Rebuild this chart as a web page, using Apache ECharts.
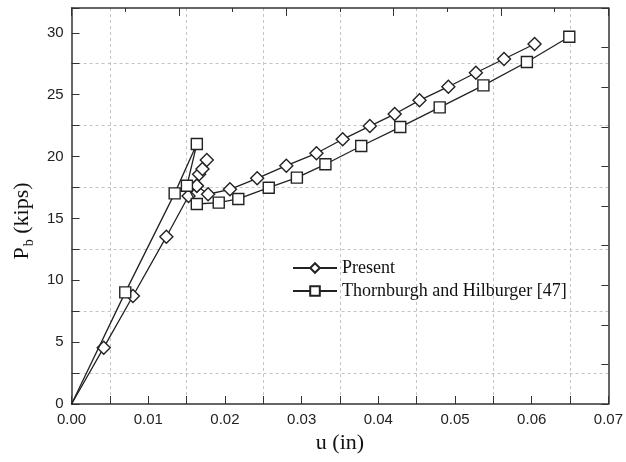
<!DOCTYPE html>
<html>
<head>
<meta charset="utf-8">
<script src="https://cdn.jsdelivr.net/npm/echarts@6/dist/echarts.min.js"></script>
<style>
    html, body { margin: 0; padding: 0; background: #fff; }
    #chart { width: 626px; height: 462px; }
</style>
</head>
<body>
<div id="chart"></div>
<script>
// Present (diamonds): u in inches, P_b in kips; the spike is retraced back to 17.64
const presentU = [0, 0.00419, 0.0080, 0.01236, 0.01525, 0.01633, 0.01663, 0.01707, 0.01763, 0.01633, 0.0178,
    0.02065, 0.0242, 0.0280, 0.03193, 0.03535, 0.03889, 0.04213, 0.04537, 0.04913, 0.05272, 0.05639, 0.06037];
const presentP = [0, 4.55, 8.73, 13.52, 16.81, 17.64, 18.56, 18.99, 19.72, 17.64, 16.95,
    17.35, 18.24, 19.26, 20.26, 21.39, 22.46, 23.43, 24.54, 25.64, 26.77, 27.88, 29.09];

// Thornburgh and Hilburger [47] (squares)
const refU = [0, 0.0070, 0.01344, 0.01633, 0.01504, 0.01633, 0.01919, 0.02174, 0.02571, 0.02938,
    0.0331, 0.03777, 0.04286, 0.048, 0.0537, 0.05937, 0.0649];
const refP = [0, 9.02, 17.02, 21.01, 17.64, 16.16, 16.27, 16.57, 17.48, 18.29,
    19.37, 20.85, 22.38, 23.97, 25.75, 27.64, 29.68];

const seriesNames = ['Present', 'Thornburgh and Hilburger [47]'];

const INK = '#222';
const GRID_LINE = { color: '#c4c4c4', type: [3, 3], width: 1 };
const FRAME = { show: true, onZero: false, lineStyle: { color: '#333', width: 1.5 } };

const toPoints = (xs, ys) => xs.map((x, i) => (i === 0 ? { value: [x, ys[i]], symbol: 'none' } : [x, ys[i]]));

const chart = echarts.init(document.getElementById('chart'));

chart.setOption({
    backgroundColor: '#fff',
    animation: false,
    grid: { left: 70, right: 17, top: 8, bottom: 58 },
    legend: {
        data: seriesNames,
        orient: 'vertical',
        left: 287,
        top: 254,
        itemWidth: 44,
        itemHeight: 12,
        itemGap: 5,
        textStyle: { fontFamily: 'Liberation Serif', fontSize: 18, color: '#111' },
    },
    xAxis: [
        {
            type: 'value',
            min: 0,
            max: 0.07,
            interval: 0.01,
            name: 'u (in)',
            nameLocation: 'middle',
            nameGap: 26,
            nameTextStyle: { fontFamily: 'Liberation Serif', fontSize: 22, color: '#111' },
            axisLine: FRAME,
            axisTick: { inside: true, length: 8, lineStyle: { color: '#333' } },
            minorTick: { show: true, splitNumber: 2, length: 8, lineStyle: { color: '#333' } },
            splitLine: { show: false },
            minorSplitLine: { show: true, lineStyle: GRID_LINE },
            axisLabel: {
                margin: 8,
                fontFamily: 'Liberation Sans',
                fontSize: 15,
                color: INK,
                formatter: (v) => v.toFixed(2),
            },
        },
        {
            type: 'value',
            position: 'top',
            min: 0,
            max: 0.07,
            interval: 0.014,
            axisLine: FRAME,
            axisTick: { inside: true, length: 8, lineStyle: { color: '#333' } },
            minorTick: { show: true, splitNumber: 2, length: 4, lineStyle: { color: '#333' } },
            splitLine: { show: false },
            axisLabel: { show: false },
        },
    ],
    yAxis: [
        {
            type: 'value',
            min: 0,
            max: 32,
            interval: 5,
            name: '{p|P}{s|b}{p| (kips)}',
            nameLocation: 'middle',
            nameGap: 30,
            nameTextStyle: {
                padding: [0, 30, 0, 0],
                rich: {
                    p: { fontFamily: 'Liberation Serif', fontSize: 22, lineHeight: 22, color: '#111' },
                    s: { fontFamily: 'Liberation Serif', fontSize: 14, lineHeight: 14, padding: [14, 0, 0, 1], color: '#111' },
                },
            },
            axisLine: FRAME,
            axisTick: { inside: true, length: 8, lineStyle: { color: '#333' } },
            minorTick: { show: true, splitNumber: 2, length: 8, lineStyle: { color: '#333' } },
            splitLine: { show: false },
            minorSplitLine: { show: true, lineStyle: GRID_LINE },
            axisLabel: {
                margin: 8,
                fontFamily: 'Liberation Sans',
                fontSize: 15,
                color: INK,
                formatter: (v) => (v % 5 === 0 ? String(v) : ''),
            },
        },
        {
            type: 'value',
            position: 'right',
            min: 0,
            max: 32,
            interval: 6.4,
            axisLine: FRAME,
            axisTick: { inside: true, length: 7, lineStyle: { color: '#333' } },
            minorTick: { show: true, splitNumber: 2, length: 7, lineStyle: { color: '#333' } },
            splitLine: { show: false },
            axisLabel: { show: false },
        },
    ],
    series: [
        {
            name: seriesNames[0],
            type: 'line',
            data: toPoints(presentU, presentP),
            symbol: 'diamond',
            symbolSize: 13,
            showAllSymbol: true,
            clip: false,
            lineStyle: { color: INK, width: 1.3 },
            itemStyle: { color: '#fff', borderColor: INK, borderWidth: 1.4 },
            z: 3,
        },
        {
            name: seriesNames[1],
            type: 'line',
            data: toPoints(refU, refP),
            symbol: 'rect',
            symbolSize: 11,
            showAllSymbol: true,
            clip: false,
            lineStyle: { color: INK, width: 1.3 },
            itemStyle: { color: '#fff', borderColor: INK, borderWidth: 1.4 },
            z: 4,
        },
    ],
});
</script>
</body>
</html>
